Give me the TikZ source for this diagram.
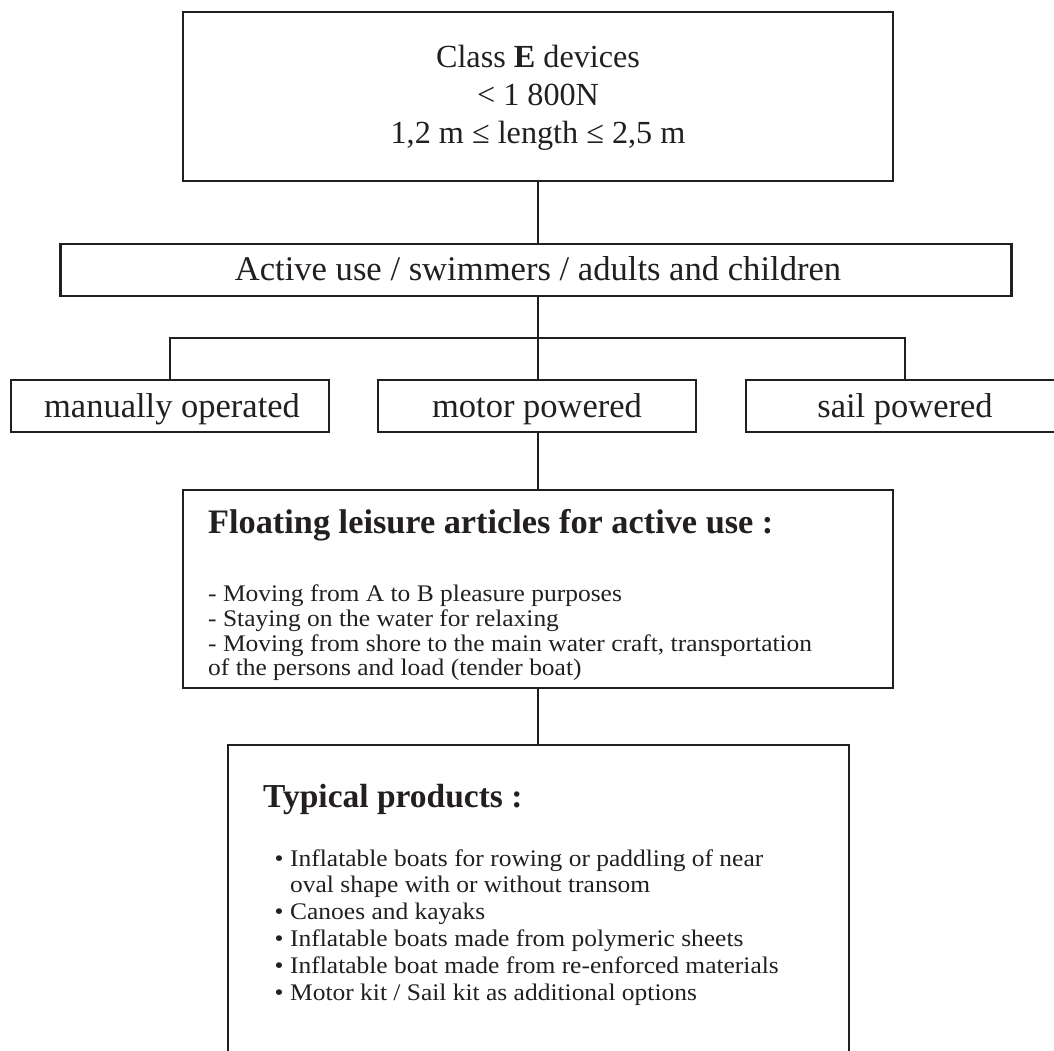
\documentclass[tikz,border=0pt]{standalone}
\usepackage{fontspec}
\setmainfont{Liberation Serif}
\newfontfamily\bodyserif{Liberation Serif}[FakeStretch=1.07]
\definecolor{ink}{HTML}{231F20}
\begin{document}
\begin{tikzpicture}[x=1pt,y=-1pt,
  box/.style={draw=ink, line width=2.6pt, inner sep=0pt, fill=white},
  conn/.style={draw=ink, line width=2.2pt},
  txt/.style={text=ink, inner sep=0pt, anchor=base},
  ltxt/.style={text=ink, inner sep=0pt, anchor=base west},
  body/.style={font=\fontsize{23.8}{27}\bodyserif}]
\useasboundingbox (0,0) rectangle (1054,1050);
\clip (0,0) rectangle (1054,1050);

% boxes
\node[box, minimum width=710pt, minimum height=169pt] (top) at (538,96.5) {};
\node[box, minimum width=951pt, minimum height=52pt] (active) at (536,270) {};
\node[box, minimum width=318pt, minimum height=52pt] (man) at (170,406) {};
\node[box, minimum width=318pt, minimum height=52pt] (motor) at (537,406) {};
\node[box, minimum width=318pt, minimum height=52pt] (sail) at (905,406) {};
\node[box, minimum width=710pt, minimum height=198pt] (float) at (538,589) {};
\node[box, minimum width=621pt, minimum height=340pt] (typ) at (538.5,915) {};
\coordinate (bj) at (538,338);

% connectors
\draw[conn] (top.south -| bj) -- (active.north -| bj);
\draw[conn] (active.south -| bj) -- (bj);
\draw[conn] (man.north) -- (man.north |- bj) -- (sail.north |- bj) -- (sail.north);
\draw[conn] (bj) -- (motor.north -| bj);
\draw[conn] (motor.south -| bj) -- (float.north -| bj);
\draw[conn] (float.south -| bj) -- (typ.north -| bj);

% top box text
\node[txt, font=\fontsize{32.2}{36}\selectfont] (t1) at (538,67) {Class \textbf{E} devices};
\node[txt, font=\fontsize{32.2}{36}\selectfont] (t2) at (538,105) {< 1 800N};
\node[txt, font=\fontsize{32.2}{36}\selectfont] (t3) at (538,143) {1,2 m ≤ length ≤ 2,5 m};

% active
\node[txt, font=\fontsize{34.6}{38}\selectfont] (a1) at (538,280) {Active use / swimmers / adults and children};

% three boxes
\node[txt, font=\fontsize{34.5}{38}\selectfont] (m1) at (172,417) {manually operated};
\node[txt, font=\fontsize{34.5}{38}\selectfont] (p1) at (537,417) {motor powered};
\node[txt, font=\fontsize{34.5}{38}\selectfont] (s1) at (905,417) {sail powered};

% floating box
\node[ltxt, font=\fontsize{34.3}{38}\bfseries] (f0) at (208,533) {Floating leisure articles for active use :};
\node[ltxt, body] (f1) at (208,601) {- Moving from A to B pleasure purposes};
\node[ltxt, body] (f2) at (208,626) {- Staying on the water for relaxing};
\node[ltxt, body] (f3) at (208,651) {- Moving from shore to the main water craft, transportation};
\node[ltxt, body] (f4) at (208,675) {of the persons and load (tender boat)};

% typical box
\node[ltxt, font=\fontsize{33.5}{36}\bfseries] (g0) at (263,807) {Typical products :};
\foreach \y/\t [count=\i] in {866/{Inflatable boats for rowing or paddling of near},
  919/{Canoes and kayaks},
  946/{Inflatable boats made from polymeric sheets},
  973/{Inflatable boat made from re-enforced materials},
  1000/{Motor kit / Sail kit as additional options}}{
  \node[txt, body] (b\i) at (279,\y) {•};
  \node[ltxt, body] (g\i) at (290,\y) {\t};
}
\node[ltxt, body] (g1b) at (290,892) {oval shape with or without transom};
\end{tikzpicture}
\end{document}
